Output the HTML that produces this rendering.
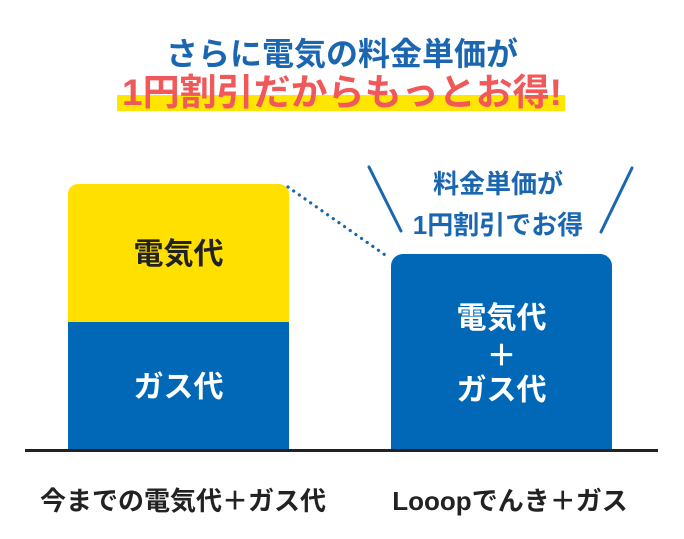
<!DOCTYPE html>
<html>
<head>
<meta charset="utf-8">
<style>
  html,body{margin:0;padding:0;}
  body{width:684px;height:539px;background:#fff;position:relative;overflow:hidden;
    font-family:"Liberation Sans","Noto Sans CJK JP",sans-serif;font-weight:bold;}
  .t{position:absolute;white-space:nowrap;line-height:1;text-align:center;}
</style>
</head>
<body>
  <!-- title -->
  <div class="t" style="left:0;width:684px;top:38px;font-size:32px;color:#1a66b0;">さらに電気の料金単価が</div>
  <div style="position:absolute;left:117px;top:95px;width:448px;height:16px;background:#ffe600;"></div>
  <div class="t" style="left:0;width:684px;top:74px;font-size:37px;color:#f0585a;">1円割引だからもっとお得!</div>

  <!-- left bar -->
  <div style="position:absolute;left:68px;top:184px;width:221px;height:138px;background:#ffe000;border-radius:10px 10px 0 0;"></div>
  <div style="position:absolute;left:68px;top:322px;width:221px;height:128px;background:#0068b6;"></div>
  <div class="t" style="left:68px;width:221px;top:240px;font-size:30px;color:#222;">電気代</div>
  <div class="t" style="left:68px;width:221px;top:373px;font-size:30px;color:#fff;">ガス代</div>

  <!-- right bar -->
  <div style="position:absolute;left:391px;top:254px;width:221px;height:196px;background:#0068b6;border-radius:12px 12px 0 0;"></div>
  <div class="t" style="left:391px;width:221px;top:304px;font-size:30px;color:#fff;">電気代</div>
  <div class="t" style="left:391px;width:221px;top:342px;font-size:30px;color:#fff;">＋</div>
  <div class="t" style="left:391px;width:221px;top:376px;font-size:30px;color:#fff;">ガス代</div>

  <!-- callout -->
  <div class="t" style="left:398px;width:200px;top:171px;font-size:26px;color:#1a66b0;">料金単価が</div>
  <div class="t" style="left:398px;width:200px;top:212px;font-size:26px;color:#1a66b0;">1円割引でお得</div>

  <svg width="684" height="539" style="position:absolute;left:0;top:0;" xmlns="http://www.w3.org/2000/svg">
    <line x1="369" y1="167" x2="401" y2="231" stroke="#1a66b0" stroke-width="3" stroke-linecap="round"/>
    <line x1="632" y1="168" x2="601" y2="232" stroke="#1a66b0" stroke-width="3" stroke-linecap="round"/>
    <line x1="288" y1="187" x2="388" y2="257" stroke="#1a66b0" stroke-width="3.2" stroke-dasharray="0.1 6.8" stroke-linecap="round"/>
    <rect x="25" y="449" width="633" height="3" fill="#222"/>
  </svg>

  <!-- bottom labels -->
  <div class="t" style="left:40px;width:280px;top:488px;font-size:26px;color:#222;">今までの電気代＋ガス代</div>
  <div class="t" style="left:380px;width:260px;top:488px;font-size:26px;color:#222;">Looopでんき＋ガス</div>
</body>
</html>
